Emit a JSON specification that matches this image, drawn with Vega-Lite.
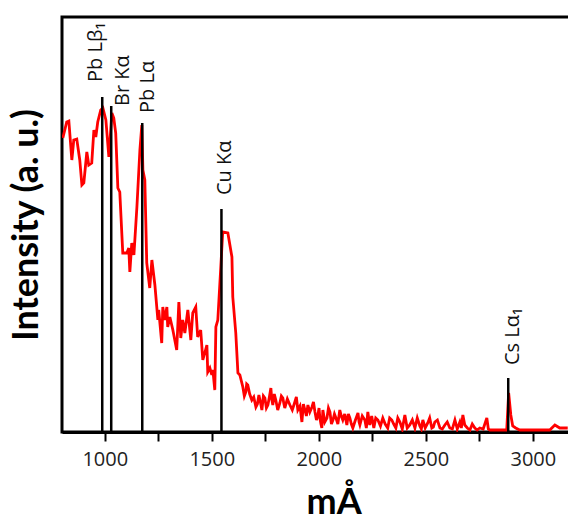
{
  "$schema": "https://vega.github.io/schema/vega-lite/v6.json",
  "autosize": {"type": "none"},
  "width": 510,
  "height": 415,
  "padding": {"left": 62, "top": 17, "right": 0, "bottom": 89},
  "background": "white",
  "config": {
    "view": {"stroke": "black", "strokeWidth": 3},
    "font": "Open Sans"
  },
  "datasets": {
    "spectrum": [
      {"x": 804, "y": 294}, {"x": 822, "y": 310}, {"x": 832, "y": 311}, {"x": 846, "y": 272},
      {"x": 855, "y": 292}, {"x": 869, "y": 293}, {"x": 883, "y": 272}, {"x": 893, "y": 247},
      {"x": 902, "y": 249}, {"x": 916, "y": 280}, {"x": 925, "y": 267}, {"x": 939, "y": 269},
      {"x": 949, "y": 302}, {"x": 958, "y": 295}, {"x": 967, "y": 310}, {"x": 981, "y": 322},
      {"x": 991, "y": 324}, {"x": 1005, "y": 312}, {"x": 1019, "y": 275}, {"x": 1033, "y": 319},
      {"x": 1042, "y": 314}, {"x": 1051, "y": 299}, {"x": 1061, "y": 244}, {"x": 1070, "y": 240},
      {"x": 1084, "y": 179}, {"x": 1103, "y": 179}, {"x": 1112, "y": 184}, {"x": 1117, "y": 160},
      {"x": 1126, "y": 189}, {"x": 1136, "y": 177}, {"x": 1150, "y": 225}, {"x": 1164, "y": 282},
      {"x": 1173, "y": 307}, {"x": 1178, "y": 262}, {"x": 1187, "y": 252}, {"x": 1196, "y": 169},
      {"x": 1210, "y": 144}, {"x": 1220, "y": 172}, {"x": 1234, "y": 147}, {"x": 1248, "y": 112},
      {"x": 1252, "y": 122}, {"x": 1266, "y": 89}, {"x": 1271, "y": 125}, {"x": 1280, "y": 112},
      {"x": 1290, "y": 125}, {"x": 1294, "y": 105}, {"x": 1304, "y": 115}, {"x": 1318, "y": 102},
      {"x": 1336, "y": 82}, {"x": 1346, "y": 130}, {"x": 1355, "y": 94}, {"x": 1364, "y": 112},
      {"x": 1374, "y": 99}, {"x": 1388, "y": 122}, {"x": 1402, "y": 92}, {"x": 1411, "y": 119},
      {"x": 1425, "y": 125}, {"x": 1434, "y": 95}, {"x": 1448, "y": 102}, {"x": 1458, "y": 72},
      {"x": 1477, "y": 87}, {"x": 1481, "y": 60}, {"x": 1491, "y": 64}, {"x": 1500, "y": 57},
      {"x": 1505, "y": 62}, {"x": 1514, "y": 42}, {"x": 1519, "y": 105}, {"x": 1528, "y": 112},
      {"x": 1542, "y": 165}, {"x": 1551, "y": 200}, {"x": 1575, "y": 199}, {"x": 1594, "y": 175},
      {"x": 1598, "y": 135}, {"x": 1612, "y": 99}, {"x": 1622, "y": 59}, {"x": 1631, "y": 57},
      {"x": 1645, "y": 45}, {"x": 1652, "y": 36}, {"x": 1659, "y": 40}, {"x": 1663, "y": 48},
      {"x": 1668, "y": 47}, {"x": 1677, "y": 38}, {"x": 1687, "y": 32}, {"x": 1696, "y": 35},
      {"x": 1706, "y": 25}, {"x": 1713, "y": 28}, {"x": 1720, "y": 37}, {"x": 1727, "y": 30},
      {"x": 1734, "y": 22}, {"x": 1741, "y": 36}, {"x": 1748, "y": 34}, {"x": 1755, "y": 24},
      {"x": 1762, "y": 27}, {"x": 1769, "y": 35}, {"x": 1776, "y": 44}, {"x": 1780, "y": 33},
      {"x": 1785, "y": 27}, {"x": 1792, "y": 38}, {"x": 1799, "y": 32}, {"x": 1808, "y": 22},
      {"x": 1818, "y": 29}, {"x": 1825, "y": 36}, {"x": 1832, "y": 34}, {"x": 1837, "y": 28},
      {"x": 1841, "y": 24}, {"x": 1853, "y": 33}, {"x": 1865, "y": 27}, {"x": 1876, "y": 22},
      {"x": 1888, "y": 30}, {"x": 1895, "y": 35}, {"x": 1902, "y": 22}, {"x": 1912, "y": 26},
      {"x": 1921, "y": 10}, {"x": 1928, "y": 28}, {"x": 1935, "y": 22}, {"x": 1942, "y": 16},
      {"x": 1949, "y": 27}, {"x": 1958, "y": 20}, {"x": 1968, "y": 25}, {"x": 1975, "y": 30},
      {"x": 1982, "y": 20}, {"x": 1989, "y": 12}, {"x": 1996, "y": 17}, {"x": 2001, "y": 24},
      {"x": 2005, "y": 14}, {"x": 2010, "y": 8}, {"x": 2014, "y": 4}, {"x": 2019, "y": 22},
      {"x": 2028, "y": 10}, {"x": 2038, "y": 14}, {"x": 2045, "y": 24}, {"x": 2052, "y": 20},
      {"x": 2059, "y": 8}, {"x": 2066, "y": 12}, {"x": 2073, "y": 18}, {"x": 2080, "y": 14},
      {"x": 2089, "y": 8}, {"x": 2098, "y": 22}, {"x": 2105, "y": 16}, {"x": 2112, "y": 12},
      {"x": 2121, "y": 18}, {"x": 2131, "y": 7}, {"x": 2138, "y": 18}, {"x": 2145, "y": 14},
      {"x": 2152, "y": 8}, {"x": 2159, "y": 4}, {"x": 2171, "y": 12}, {"x": 2183, "y": 19},
      {"x": 2188, "y": 10}, {"x": 2192, "y": 7}, {"x": 2203, "y": 16}, {"x": 2215, "y": 12},
      {"x": 2222, "y": 4}, {"x": 2229, "y": 20}, {"x": 2233, "y": 14}, {"x": 2238, "y": 7},
      {"x": 2247, "y": 16}, {"x": 2257, "y": 4}, {"x": 2266, "y": 14}, {"x": 2276, "y": 12},
      {"x": 2288, "y": 6}, {"x": 2299, "y": 14}, {"x": 2310, "y": 8}, {"x": 2322, "y": 4},
      {"x": 2331, "y": 14}, {"x": 2341, "y": 12}, {"x": 2350, "y": 8}, {"x": 2360, "y": 4},
      {"x": 2369, "y": 14}, {"x": 2379, "y": 10}, {"x": 2390, "y": 3}, {"x": 2402, "y": 17},
      {"x": 2413, "y": 4}, {"x": 2425, "y": 7}, {"x": 2437, "y": 12}, {"x": 2449, "y": 4},
      {"x": 2460, "y": 14}, {"x": 2472, "y": 6}, {"x": 2479, "y": 3}, {"x": 2486, "y": 12},
      {"x": 2497, "y": 4}, {"x": 2509, "y": 9}, {"x": 2518, "y": 14}, {"x": 2528, "y": 4},
      {"x": 2535, "y": 5}, {"x": 2542, "y": 10}, {"x": 2554, "y": 12}, {"x": 2566, "y": 4},
      {"x": 2577, "y": 3}, {"x": 2589, "y": 7}, {"x": 2600, "y": 10}, {"x": 2612, "y": 4},
      {"x": 2624, "y": 3}, {"x": 2636, "y": 12}, {"x": 2647, "y": 3}, {"x": 2659, "y": 10},
      {"x": 2666, "y": 4}, {"x": 2673, "y": 17}, {"x": 2682, "y": 7}, {"x": 2694, "y": 4},
      {"x": 2706, "y": 2}, {"x": 2717, "y": 8}, {"x": 2729, "y": 4}, {"x": 2740, "y": 2},
      {"x": 2752, "y": 4}, {"x": 2768, "y": 3}, {"x": 2785, "y": 14}, {"x": 2792, "y": 3},
      {"x": 2799, "y": 2}, {"x": 2823, "y": 2}, {"x": 2846, "y": 2}, {"x": 2869, "y": 2},
      {"x": 2878, "y": 2}, {"x": 2887, "y": 39}, {"x": 2897, "y": 17}, {"x": 2906, "y": 6},
      {"x": 2920, "y": 4}, {"x": 2939, "y": 2}, {"x": 2986, "y": 2}, {"x": 3033, "y": 2},
      {"x": 3079, "y": 2}, {"x": 3103, "y": 7}, {"x": 3126, "y": 4}, {"x": 3163, "y": 4}
    ],
    "lines": [
      {"label": "Pb Lβ₁", "x": 988, "top": 335, "lx": 958, "ly": 350},
      {"label": "Br Kα", "x": 1030, "top": 326, "lx": 1084, "ly": 326},
      {"label": "Pb Lα", "x": 1175, "top": 309, "lx": 1201, "ly": 319},
      {"label": "Cu Kα", "x": 1545, "top": 223, "lx": 1561, "ly": 237},
      {"label": "Cs Lα₁", "x": 2885, "top": 54, "lx": 2906, "ly": 67}
    ]
  },
  "layer": [
    {
      "data": {"name": "spectrum"},
      "mark": {"type": "line", "color": "#ff0000", "strokeWidth": 2.8, "clip": true},
      "encoding": {
        "x": {
          "field": "x", "type": "quantitative",
          "scale": {"domain": [800, 3183], "nice": false, "zero": false},
          "axis": {
            "title": "mÅ",
            "titleFont": "Lato", "titleFontWeight": "bold", "titleFontSize": 36,
            "titleColor": "black", "titleAnchor": "start", "titleX": 244,
            "titleY": 81, "titleBaseline": "alphabetic",
            "values": [1000, 1250, 1500, 1750, 2000, 2250, 2500, 2750, 3000],
            "labelExpr": "datum.value % 500 === 0 ? datum.value : ''",
            "labelFont": "Open Sans", "labelFontSize": 20, "labelColor": "#222",
            "labelPadding": 8,
            "tickColor": "black", "tickWidth": 2, "tickSize": 9,
            "domain": true, "domainColor": "black", "domainWidth": 3,
            "grid": false,
            "encode": {"ticks": {"update": {"y2": {"signal": "datum.value % 500 === 0 ? 9 : 4"}}}}
          }
        },
        "y": {
          "field": "y", "type": "quantitative",
          "scale": {"domain": [0, 415], "nice": false},
          "axis": {
            "title": "Intensity (a. u.)",
            "titleFont": "Lato", "titleFontWeight": "bold", "titleFontSize": 36,
            "titleColor": "black", "titlePadding": 17,
            "labels": false, "ticks": false, "domain": false, "grid": false
          }
        }
      }
    },
    {
      "data": {"name": "lines"},
      "mark": {"type": "rule", "color": "black", "strokeWidth": 2.5},
      "encoding": {
        "x": {"field": "x", "type": "quantitative"},
        "y": {"field": "top", "type": "quantitative"},
        "y2": {"datum": 0}
      }
    },
    {
      "data": {"name": "lines"},
      "mark": {"type": "text", "angle": 270, "align": "left", "baseline": "middle", "font": "Open Sans", "fontSize": 20, "color": "#111"},
      "encoding": {
        "x": {"field": "lx", "type": "quantitative"},
        "y": {"field": "ly", "type": "quantitative"},
        "text": {"field": "label"}
      }
    }
  ]
}
